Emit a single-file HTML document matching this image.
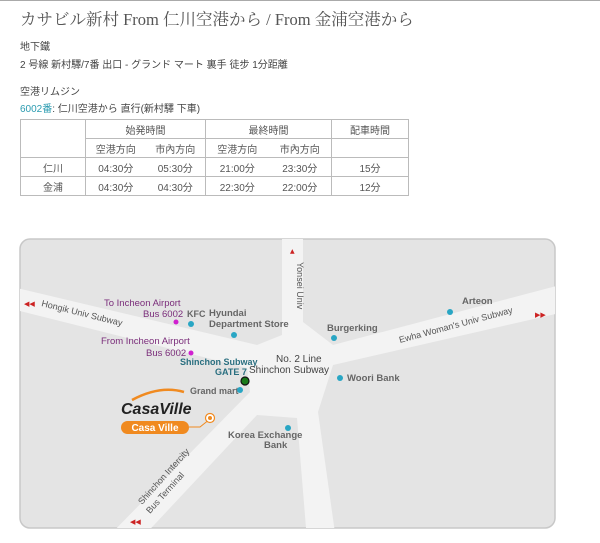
<!DOCTYPE html>
<html><head><meta charset="utf-8"><style>
body{margin:0;width:600px;height:543px;background:#fff;position:relative;overflow:hidden;font-family:"Liberation Sans","Noto Sans CJK JP",sans-serif;color:#444}
.t{position:absolute;white-space:nowrap}
table{position:absolute;left:20px;top:119px;border-collapse:collapse;font-size:10px;color:#555}
td{border:1px solid #bbb;text-align:center;padding:0;height:18px}
td.l{border-right:none}td.r{border-left:none}
</style></head><body>
<div style="position:absolute;left:0;top:0;width:600px;height:1px;background:#aaa"></div>
<div class="t" style="left:20px;top:6px;font-size:16.5px;color:#555;font-family:'Liberation Serif','Noto Serif CJK SC',serif">カサビル新村 From 仁川空港から / From 金浦空港から</div>
<div class="t" style="left:20px;top:38px;font-size:10px">地下鐵</div>
<div class="t" style="left:20px;top:56px;font-size:10px">2 号線 新村驛/7番 出口 - グランド マート 裏手 徒步 1分距離</div>
<div class="t" style="left:20px;top:83px;font-size:10px">空港リムジン</div>
<div class="t" style="left:20px;top:100px;font-size:10px"><span style="color:#2a9bb0">6002番</span>: 仁川空港から 直行(新村驛 下車)</div>
<table>
<tr><td rowspan="2" style="width:64px"></td><td colspan="2" style="width:119px;height:18px">始発時間</td><td colspan="2" style="width:125px">最終時間</td><td style="width:76px">配車時間</td></tr>
<tr><td class="l">空港方向</td><td class="r">市內方向</td><td class="l">空港方向</td><td class="r">市內方向</td><td></td></tr>
<tr><td style="height:17px">仁川</td><td class="l">04:30分</td><td class="r">05:30分</td><td class="l">21:00分</td><td class="r">23:30分</td><td>15分</td></tr>
<tr><td style="height:17px">金浦</td><td class="l">04:30分</td><td class="r">04:30分</td><td class="l">22:30分</td><td class="r">22:00分</td><td>12分</td></tr>
</table>
<svg style="position:absolute;left:0;top:0" width="600" height="543">
<defs><clipPath id="c"><rect x="20" y="239" width="535" height="289" rx="10"/></clipPath></defs>
<rect x="20" y="239" width="535" height="289" rx="10" fill="#e4e4e4" stroke="#c8c8c8" stroke-width="1.5"/>
<g clip-path="url(#c)" fill="#f3f3f3">
<polygon points="0,284 257,345 282,335 282,230 303,230 303,322 333,345 560,285 560,313 333,365 318,412 336,540 307,540 297,418 257,415 140,540 105,540 250,392 247,368 0,306"/>
</g>
<g font-family="Liberation Sans,sans-serif" font-weight="bold" font-size="9.5" fill="#666">
<text x="104" y="306" fill="#7a2d7a" font-weight="normal">To Incheon Airport</text>
<text x="143" y="317" fill="#7a2d7a" font-weight="normal">Bus 6002</text>
<text x="187" y="317" font-size="9">KFC</text>
<text x="209" y="316">Hyundai</text>
<text x="209" y="327">Department Store</text>
<text x="101" y="344" fill="#7a2d7a" font-weight="normal">From Incheon Airport</text>
<text x="146" y="356" fill="#7a2d7a" font-weight="normal">Bus 6002</text>
<text x="180" y="365" fill="#2a6f80" font-size="9">Shinchon Subway</text>
<text x="215" y="375" fill="#2a6f80" font-size="9">GATE 7</text>
<text x="190" y="394" font-size="9">Grand mart</text>
<text x="228" y="438">Korea Exchange</text>
<text x="264" y="448">Bank</text>
<text x="327" y="331">Burgerking</text>
<text x="462" y="304">Arteon</text>
<text x="347" y="381">Woori Bank</text>
</g>
<g font-family="Liberation Sans,sans-serif" font-size="10" fill="#444">
<text x="276" y="362">No. 2 Line</text>
<text x="249" y="373">Shinchon Subway</text>
</g>
<g font-family="Liberation Sans,sans-serif" font-size="9" fill="#555">
<text transform="translate(41,306) rotate(14)">Hongik Univ Subway</text>
<text transform="translate(297,262) rotate(90)">Yonsei Univ</text>
<text transform="translate(400,343) rotate(-15)">Ewha Woman's Univ Subway</text>
<text transform="translate(142,505) rotate(-48)">Shinchon Intercity</text>
<text transform="translate(150,514) rotate(-48)">Bus Terminal</text>
</g>
<g fill="#cc2222" font-size="7" font-family="DejaVu Sans,sans-serif">
<text x="24" y="306">◀◀</text><text x="535" y="317">▶▶</text><text x="290" y="253" font-size="6">▲</text><text x="130" y="524">◀◀</text>
</g>
<g fill="#29a6c4">
<circle cx="191" cy="324" r="3"/><circle cx="234" cy="335" r="3"/><circle cx="334" cy="338" r="3"/><circle cx="450" cy="312" r="3"/><circle cx="340" cy="378" r="3"/><circle cx="240" cy="390" r="3"/><circle cx="288" cy="428" r="3"/>
</g>
<circle cx="176" cy="322" r="2.5" fill="#d020d0"/><circle cx="191" cy="353" r="2.5" fill="#d020d0"/>
<circle cx="245" cy="381" r="4" fill="#1a7a1a" stroke="#111" stroke-width="1.2"/>
<path d="M132,400 Q160,385 184,392" stroke="#f08a20" stroke-width="2.5" fill="none"/>
<text x="121" y="414" font-family="Liberation Sans,sans-serif" font-style="italic" font-weight="bold" font-size="16" fill="#222">CasaVille</text>
<rect x="121" y="421" width="68" height="13" rx="6.5" fill="#f08a20"/>
<text x="155" y="431" text-anchor="middle" font-family="Liberation Sans,sans-serif" font-weight="bold" font-size="10" fill="#fff">Casa Ville</text>
<polyline points="189,427 200,427 210,419" stroke="#f08a20" fill="none"/>
<circle cx="210" cy="418" r="4.5" fill="#fff" stroke="#f08a20" stroke-width="1.2"/><circle cx="210" cy="418" r="2" fill="#f08a20"/>
</svg>
</body></html>
